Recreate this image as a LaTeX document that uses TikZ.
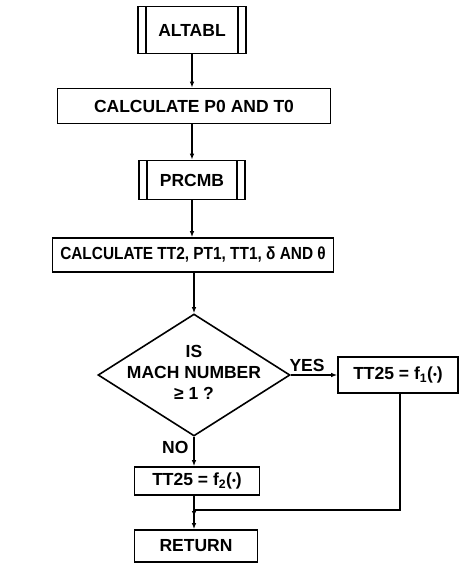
\documentclass[tikz,border=0pt]{standalone}
\usepackage{fontspec}
\setmainfont{Liberation Sans}
\usetikzlibrary{shapes.geometric,arrows.meta}
\newcommand{\dotarg}{({\fontsize{11}{11}\selectfont\raisebox{1pt}{•}})}
\begin{document}
\begin{tikzpicture}[
	x=1pt, y=-1pt,
	font=\fontsize{17.5}{21}\selectfont\bfseries,
	box/.style = {rectangle, draw, line width=1.6pt, inner sep=0pt},
	sub/.style = {box, path picture={
		\draw[line width=1.1pt]
			([xshift=8pt]path picture bounding box.north west) -- ([xshift=8pt]path picture bounding box.south west)
			([xshift=-8pt]path picture bounding box.north east) -- ([xshift=-8pt]path picture bounding box.south east);}},
	dec/.style = {diamond, draw, line width=1.6pt, inner sep=0pt, minimum width=192, minimum height=122},
	r/.style = {-{Latex[length=6pt,width=4.5pt]}, line width=1.2pt},
	j/.style = {line width=1.2pt}
	]
	\useasboundingbox (0,0) rectangle (465,565);
	
	%Nodes
	\node[sub, minimum width=108, minimum height=47]	(altabl)	at	(192, 30)	{ALTABL};
	\node[box, minimum width=273, minimum height=35]	(calcp)		at	(194, 106)	{CALCULATE P0 AND T0};
	\node[sub, minimum width=106, minimum height=39]	(prcmb)		at	(192, 180)	{PRCMB};
	\node[box, minimum width=281, minimum height=34]	(calct)		at	(193, 255)	{\scalebox{0.88}[1]{CALCULATE TT2, PT1, TT1, δ AND θ}};
	\node[dec]											(mach)		at	(194, 375)	{};
	\node[align=center]									(machtext)	at	(194, 372)	{IS\\MACH NUMBER\\≥ 1 ?};
	\node[box, minimum width=120, minimum height=36]	(fone)		at	(398, 375)	{TT25 = f\textsubscript{1}\dotarg};
	\node[box, minimum width=125, minimum height=28]	(ftwo)		at	(197, 481)	{TT25 = f\textsubscript{2}\dotarg};
	\node[box, minimum width=123, minimum height=32]	(return)	at	(196, 546)	{RETURN};
	\coordinate											(join)		at	(194, 510);
	
	%Lines
	\draw[r]	(altabl)		--	(altabl |- calcp.north);
	\draw[r]	(calcp.south -| altabl)	--	(altabl |- prcmb.north);
	\draw[r]	(prcmb)		--	(prcmb |- calct.north);
	\draw[r]	(calct.south -| mach)	--	(mach.north);
	\draw[r]	(mach.east)	--	node[above, pos=0.35, inner sep=3pt]	{YES}	(fone.west);
	\draw[r]	(mach.south)	--	node[left, pos=0.35, inner sep=5pt]	{NO}	(mach.south |- ftwo.north);
	\draw[r]	(mach.south |- ftwo.south)	--	([yshift=-7pt]join);
	\draw[j]	(fone.south -| 400, 0)	|-	(join);
	\draw[r]	(join)		--	(join |- return.north);
\end{tikzpicture}
\end{document}
